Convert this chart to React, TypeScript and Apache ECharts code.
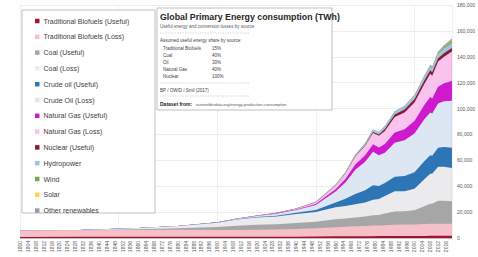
import React, { useEffect, useRef } from "react";
import * as echarts from "echarts";

const years = [1800, 1830, 1860, 1880, 1900, 1910, 1920, 1930, 1940, 1950, 1960, 1965, 1970, 1975, 1979, 1982, 1985, 1990, 1995, 2000, 2005, 2008, 2009, 2012, 2015, 2019];

const tradBioUseful = [833, 885, 930, 945, 917, 930, 945, 975, 1035, 1125, 1260, 1305, 1350, 1395, 1440, 1455, 1485, 1530, 1560, 1575, 1620, 1650, 1650, 1665, 1665, 1665];
const tradBioLoss = [4723, 5015, 5270, 5355, 5194, 5270, 5355, 5525, 5865, 6375, 7140, 7395, 7650, 7905, 8160, 8245, 8415, 8670, 8840, 8925, 9180, 9350, 9350, 9435, 9435, 9435];
const coalUseful = [39, 100, 600, 1200, 2291, 3240, 3840, 4040, 4640, 5040, 6160, 6440, 6800, 7280, 8000, 8160, 9000, 10360, 10320, 11000, 13800, 15480, 15440, 17600, 17600, 17200];
const coalLoss = [58, 150, 900, 1800, 3437, 4860, 5760, 6060, 6960, 7560, 9240, 9660, 10200, 10920, 12000, 12240, 13500, 15540, 15480, 16500, 20700, 23220, 23160, 26400, 26400, 25800];
const oilUseful = [0, 0, 0, 15, 54, 150, 330, 660, 960, 1620, 3630, 5430, 8010, 9450, 11100, 10140, 10050, 11220, 11790, 12810, 13950, 14160, 13950, 14640, 15180, 15600];
const oilLoss = [0, 0, 0, 35, 127, 350, 770, 1540, 2240, 3780, 8470, 12670, 18690, 22050, 25900, 23660, 23450, 26180, 27510, 29890, 32550, 33040, 32550, 34160, 35420, 36400];
const gasUseful = [0, 0, 0, 4, 26, 60, 92, 228, 356, 840, 1840, 2760, 4120, 4920, 5840, 6000, 6720, 8000, 8560, 9600, 10880, 11960, 11680, 12960, 13760, 15200];
const gasLoss = [0, 0, 0, 6, 38, 90, 138, 342, 534, 1260, 2760, 4140, 6180, 7380, 8760, 9000, 10080, 12000, 12840, 14400, 16320, 17940, 17520, 19440, 20640, 22800];
const nuclear = [0, 0, 0, 0, 0, 0, 0, 0, 0, 0, 0, 25, 80, 380, 690, 1000, 1500, 2000, 2330, 2580, 2770, 2740, 2700, 2470, 2570, 2700];
const hydro = [0, 0, 0, 0, 20, 50, 100, 150, 190, 340, 690, 920, 1180, 1450, 1700, 1800, 1980, 2150, 2480, 2650, 2920, 3240, 3240, 3650, 3880, 4000];
const wind = [0, 0, 0, 0, 0, 0, 0, 0, 0, 0, 0, 0, 0, 0, 0, 0, 0, 4, 8, 31, 104, 220, 276, 520, 830, 1300];
const solar = [0, 0, 0, 0, 0, 0, 0, 0, 0, 0, 0, 0, 0, 0, 0, 0, 0, 0, 0, 0, 4, 12, 20, 100, 250, 600];
const otherRenew = [0, 0, 0, 0, 0, 0, 0, 0, 0, 0, 0, 50, 80, 110, 150, 180, 250, 350, 450, 550, 700, 850, 900, 1100, 1300, 1500];

const seriesNames = [
  "Traditional Biofuels (Useful)",
  "Traditional Biofuels (Loss)",
  "Coal (Useful)",
  "Coal (Loss)",
  "Crude oil (Useful)",
  "Crude Oil (Loss)",
  "Natural Gas (Useful)",
  "Natural Gas (Loss)",
  "Nuclear (Useful)",
  "Hydropower",
  "Wind",
  "Solar",
  "Other renewables",
];
const seriesValues = [tradBioUseful, tradBioLoss, coalUseful, coalLoss, oilUseful, oilLoss, gasUseful, gasLoss, nuclear, hydro, wind, solar, otherRenew];
const seriesColors = ["#a3122e", "#f6c0c8", "#a6a6a6", "#ebebee", "#2e75b6", "#dde7f3", "#cc1acc", "#f8c4ee", "#8b1a30", "#9dc3e6", "#70ad47", "#ffd34d", "#9a9aa8"];

const tableRows = [
  ["Traditional Biofuels", "15%"],
  ["Coal", "40%"],
  ["Oil", "30%"],
  ["Natural Gas", "40%"],
  ["Nuclear", "100%"],
];

const FONT = "Liberation Sans";

export default function App() {
  const ref = useRef<HTMLDivElement>(null);
  useEffect(() => {
    if (!ref.current) return;
    const chart = echarts.init(ref.current, undefined, { renderer: "svg" });

    // stacked tops (cumulative) for each layer
    const running = years.map(() => 0);
    const stacked = seriesValues.map((vals) =>
      vals.map((v, j) => {
        running[j] += v;
        return running[j];
      })
    );

    // draw top layer first so lower layers paint over it
    const series = seriesNames
      .map((name, i) => ({
        name,
        type: "line",
        symbol: "none",
        data: years.map((y, j) => [y, stacked[i][j]]),
        lineStyle: { width: 0 },
        itemStyle: { color: seriesColors[i] },
        areaStyle: { color: seriesColors[i], opacity: 1 },
        xAxisIndex: 0,
        yAxisIndex: 0,
      }))
      .reverse();

    const tx = 160;
    const graphicEls: any[] = [
      { type: "rect", shape: { x: 22, y: 10, width: 133, height: 203 }, style: { fill: "#fff", stroke: "#bfbfbf", lineWidth: 1 }, z: 5 },
      { type: "rect", shape: { x: 157, y: 8, width: 175, height: 102 }, style: { fill: "#fff", stroke: "#bfbfbf", lineWidth: 1 }, z: 5 },
      { type: "text", x: tx, y: 17, style: { text: "Global Primary Energy consumption (TWh)", fontSize: 8.8, fontWeight: "bold", fontFamily: FONT, fill: "#262626", verticalAlign: "middle" }, z: 6 },
      { type: "text", x: tx, y: 26, style: { text: "Useful energy and conversion losses by source", fontSize: 4.5, fontFamily: FONT, fill: "#595959", verticalAlign: "middle" }, z: 6 },
      { type: "line", shape: { x1: tx, y1: 33, x2: 250, y2: 33 }, style: { stroke: "#bfbfbf", lineWidth: 0.6, lineDash: [1.5, 1] }, z: 6 },
      { type: "text", x: tx, y: 40, style: { text: "Assumed useful energy share by source:", fontSize: 4.5, fontFamily: FONT, fill: "#404040", verticalAlign: "middle" }, z: 6 },
      { type: "line", shape: { x1: tx, y1: 83, x2: 250, y2: 83 }, style: { stroke: "#bfbfbf", lineWidth: 0.6, lineDash: [1.5, 1] }, z: 6 },
      { type: "text", x: tx, y: 90, style: { text: "BP / OWID / Smil (2017)", fontSize: 4.5, fontFamily: FONT, fill: "#404040", verticalAlign: "middle" }, z: 6 },
      { type: "line", shape: { x1: tx, y1: 96, x2: 250, y2: 96 }, style: { stroke: "#bfbfbf", lineWidth: 0.6, lineDash: [1.5, 1] }, z: 6 },
      { type: "text", x: tx, y: 104, style: { text: "Dataset from:", fontSize: 5, fontWeight: "bold", fontFamily: FONT, fill: "#262626", verticalAlign: "middle" }, z: 6 },
      { type: "text", x: tx + 36, y: 104, style: { text: "ourworldindata.org/energy-production-consumption", fontSize: 4, fontFamily: FONT, fill: "#595959", verticalAlign: "middle" }, z: 6 },
    ];
    tableRows.forEach((r, i) => {
      const y = 48 + i * 7;
      graphicEls.push({ type: "text", x: tx + 3, y, style: { text: r[0], fontSize: 4.5, fontFamily: FONT, fill: "#404040", verticalAlign: "middle" }, z: 6 });
      graphicEls.push({ type: "text", x: 212, y, style: { text: r[1], fontSize: 4.5, fontFamily: FONT, fill: "#404040", verticalAlign: "middle" }, z: 6 });
    });

    chart.setOption({
      animation: false,
      textStyle: { fontFamily: FONT },
      grid: { left: 20, right: 18, top: 5, bottom: 19, containLabel: false },
      xAxis: [
        {
          type: "value",
          min: 1800,
          max: 2019,
          interval: 4,
          axisLine: { show: true, lineStyle: { color: "#bfbfbf" } },
          axisTick: { show: false },
          splitLine: { show: false },
          axisLabel: { rotate: 90, fontSize: 5, color: "#595959", margin: 3, formatter: (v: number) => String(v), showMaxLabel: false },
        },
        {
          type: "value",
          min: 1800,
          max: 2019,
          interval: 50,
          position: "top",
          axisLine: { show: false },
          axisTick: { show: false },
          axisLabel: { show: false },
          splitLine: { show: true, lineStyle: { color: "#f0f0f0", width: 1 } },
        },
      ],
      yAxis: {
        type: "value",
        position: "right",
        min: 0,
        max: 180000,
        interval: 20000,
        axisLine: { show: false },
        axisTick: { show: false },
        axisLabel: { fontSize: 5, color: "#595959", margin: 5 },
        splitLine: { show: true, lineStyle: { color: "#ececec", width: 1 } },
      },
      legend: {
        orient: "vertical",
        left: 30,
        top: 12,
        icon: "rect",
        itemWidth: 4.5,
        itemHeight: 4.5,
        itemGap: 7.8,
        z: 7,
        data: seriesNames,
        textStyle: { fontSize: 7, color: "#404040", fontFamily: FONT, lineHeight: 8, padding: [0, 0, 0, -1] },
      },
      graphic: { elements: graphicEls },
      series,
    });
    return () => chart.dispose();
  }, []);
  return <div ref={ref} style={{ position: "fixed", left: 0, top: 0, width: 478, height: 257, background: "#fff" }} />;
}
